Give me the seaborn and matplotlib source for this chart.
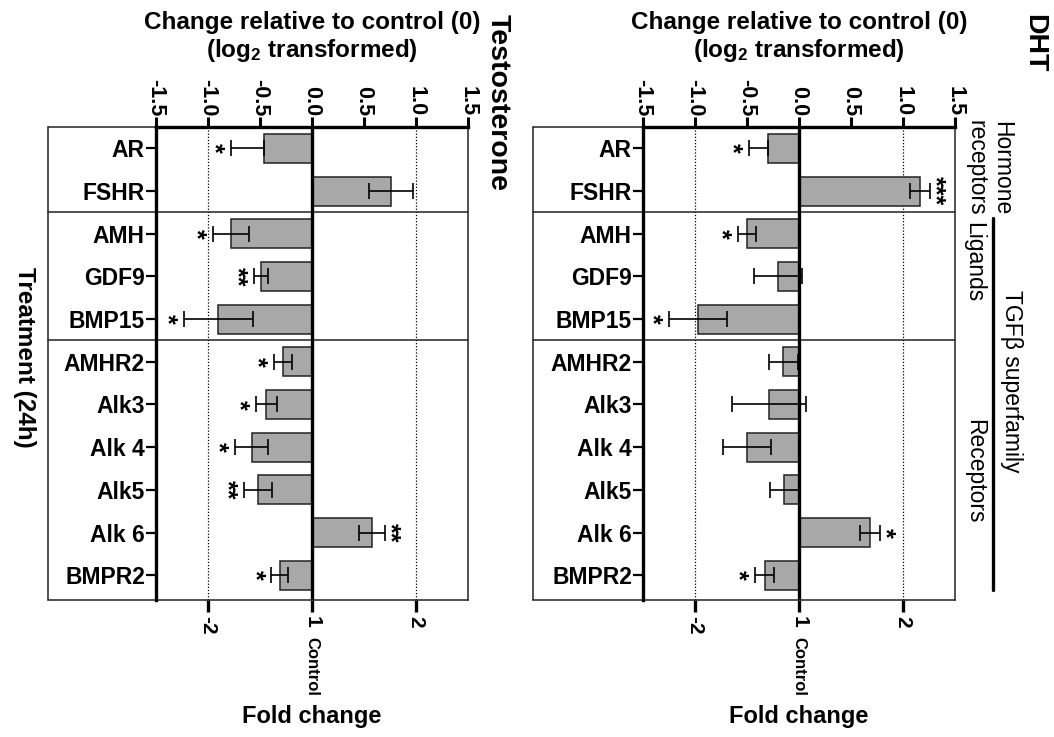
import numpy as np
import pandas as pd
import seaborn as sns
import matplotlib.pyplot as plt
from matplotlib.transforms import blended_transform_factory

genes = ["AR", "FSHR", "AMH", "GDF9", "BMP15", "AMHR2",
         "Alk3", "Alk 4", "Alk5", "Alk 6", "BMPR2"]

# log2 fold change and SEM
testo_vals = [-0.46, 0.76, -0.78, -0.49, -0.90, -0.28, -0.44, -0.58, -0.52, 0.575, -0.31]
testo_sem = [0.32, 0.21, 0.17, 0.07, 0.33, 0.09, 0.10, 0.16, 0.135, 0.125, 0.08]
testo_stars = ["*", "", "*", "**", "*", "*", "*", "*", "**", "**", "*"]

dht_vals = [-0.30, 1.16, -0.50, -0.20, -0.97, -0.15, -0.29, -0.50, -0.14, 0.68, -0.33]
dht_sem = [0.18, 0.095, 0.09, 0.23, 0.28, 0.14, 0.355, 0.23, 0.14, 0.095, 0.09]
dht_stars = ["*", "***", "*", "", "*", "", "", "", "", "*", "*"]

one_sided = ["AR"]

log_ticks = [-1.5, -1.0, -0.5, 0.0, 0.5, 1.0, 1.5]
fold_ticks = [-1, 0, 1]
fold_labels = ["-2", "1", "2"]

W, H = 1054, 737

sns.set_theme(style="white")
plt.rcParams["font.family"] = ["Liberation Sans", "DejaVu Sans"]
plt.rcParams["font.weight"] = "bold"
plt.rcParams["text.color"] = "black"
plt.rcParams["xtick.color"] = "black"
plt.rcParams["ytick.color"] = "black"
plt.rcParams["axes.unicode_minus"] = False
plt.rcParams["mathtext.fontset"] = "custom"
plt.rcParams["mathtext.rm"] = "Liberation Sans:bold"
plt.rcParams["mathtext.bf"] = "Liberation Sans:bold"
plt.rcParams["mathtext.default"] = "bf"

fig = plt.figure(figsize=(W / 100, H / 100), dpi=100)


def fx(px):
    return px / W


def fy(py):
    return 1 - py / H


BOX = "#222222"


def draw_panel(ax_left_px, box_left_px, vals, sems, stars, name, name_x):
    ax = fig.add_axes([fx(ax_left_px), fy(600), 312 / W, 473 / H])
    df = pd.DataFrame({"gene": genes, "value": vals})
    sns.barplot(data=df, x="value", y="gene", orient="h", color="#a8a8a8",
                saturation=1, edgecolor="#222222", linewidth=1.1, width=0.68,
                errorbar=None, ax=ax, zorder=3)
    pos = np.arange(len(genes))
    lo, hi = [], []
    for g, v, s in zip(genes, vals, sems):
        if g in one_sided:
            lo.append(s if v < 0 else 0)
            hi.append(0 if v < 0 else s)
        else:
            lo.append(s)
            hi.append(s)
    ax.errorbar(vals, pos, xerr=[lo, hi], fmt="none", ecolor="black",
                elinewidth=1.2, capsize=5.5, capthick=1.2, zorder=4)
    for i, (v, l, h, st) in enumerate(zip(vals, lo, hi, stars)):
        if not st:
            continue
        if v < 0:
            ax.annotate(st, xy=(v - l, i), xytext=(-12.5, 0), textcoords="offset points",
                        ha="center", va="center", rotation=-90, fontsize=18)
        else:
            ax.annotate(st, xy=(v + h, i), xytext=(3.5, 0), textcoords="offset points",
                        ha="center", va="center", rotation=-90, fontsize=18)

    ax.set_xlim(-1.5, 1.5)
    ax.set_ylim(10.58, -0.5)
    ax.set_xlabel("")
    ax.set_ylabel("")
    ax.axvline(0, color="black", lw=2.4, zorder=5)
    for g in (-1, 1):
        ax.axvline(g, color="black", lw=0.9, ls=(0, (1, 1.5)), zorder=1)

    # top log2 axis
    ax.xaxis.tick_top()
    ax.set_xticks(log_ticks, labels=[f"{t:.1f}" for t in log_ticks])
    ax.tick_params(axis="x", top=True, bottom=False, length=7, width=2.2,
                   labelsize=15.5, labelrotation=-90, pad=1)
    ax.tick_params(axis="y", left=True, length=7, width=1.6, labelsize=16.5,
                   pad=1)
    for sp in ("left", "top"):
        ax.spines[sp].set_linewidth(2.4)
        ax.spines[sp].set_color("black")
    ax.spines["right"].set_linewidth(1.1)
    ax.spines["right"].set_color(BOX)
    ax.spines["bottom"].set_visible(False)

    # bottom fold change axis
    sec = ax.secondary_xaxis("bottom")
    sec.set_xticks(fold_ticks, labels=fold_labels)
    sec.tick_params(axis="x", length=8.5, width=2.4, labelsize=15,
                    labelrotation=-90, pad=3)
    sec.spines["bottom"].set_visible(False)

    # frame around labels and groups
    bl = (box_left_px - ax_left_px) / 312
    tr = blended_transform_factory(ax.transAxes, ax.transData)
    y0, y1 = ax.get_ylim()
    for y, x0 in ((y1, bl), (y0, bl), (1.5, bl), (4.5, bl)):
        ax.plot([x0, 1 if y != y1 else 0], [y, y], transform=tr, color=BOX,
                lw=1.1, clip_on=False, zorder=2)
    ax.plot([bl, bl], [y0, y1], transform=tr, color=BOX, lw=1.1, clip_on=False)

    cx = ax_left_px + 156
    fig.text(fx(cx), fy(22), "Change relative to control (0)", ha="center",
             va="center", fontsize=17.5)
    fig.text(fx(cx), fy(51), r"(log$_2$ transformed)", ha="center",
             va="center", fontsize=17.5)
    fig.text(fx(cx), fy(717), "Fold change", ha="center", va="center",
             fontsize=17)
    fig.text(fx(cx), fy(637), "Control", ha="center", va="top", rotation=-90,
             fontsize=12)
    fig.text(fx(name_x), fy(14), name, ha="center", va="top", rotation=-90,
             fontsize=20.5)
    return ax


draw_panel(156, 48, testo_vals, testo_sem, testo_stars, "Testosterone", 498)
draw_panel(643, 533, dht_vals, dht_sem, dht_stars, "DHT", 1034)

fig.text(fx(24), fy(357), "Treatment (24h)", ha="center", va="center",
         rotation=-90, fontsize=17.5)

# group annotations on the right
norm = dict(rotation=-90, fontsize=16.5, fontweight="normal")
fig.text(fx(1002), fy(121), "Hormone", ha="center", va="top", **norm)
fig.text(fx(976), fy(120), "receptors", ha="center", va="top", **norm)
fig.text(fx(974), fy(262), "Ligands", ha="center", va="center", **norm)
fig.text(fx(975), fy(471), "Receptors", ha="center", va="center", **norm)
fig.text(fx(1011), fy(381), "TGFβ superfamily", ha="center", va="center", **norm)
fig.add_artist(plt.Line2D([fx(993), fx(993)], [fy(218), fy(590)],
                          color="black", lw=2.4))

fig.savefig("out.png", dpi=100)
